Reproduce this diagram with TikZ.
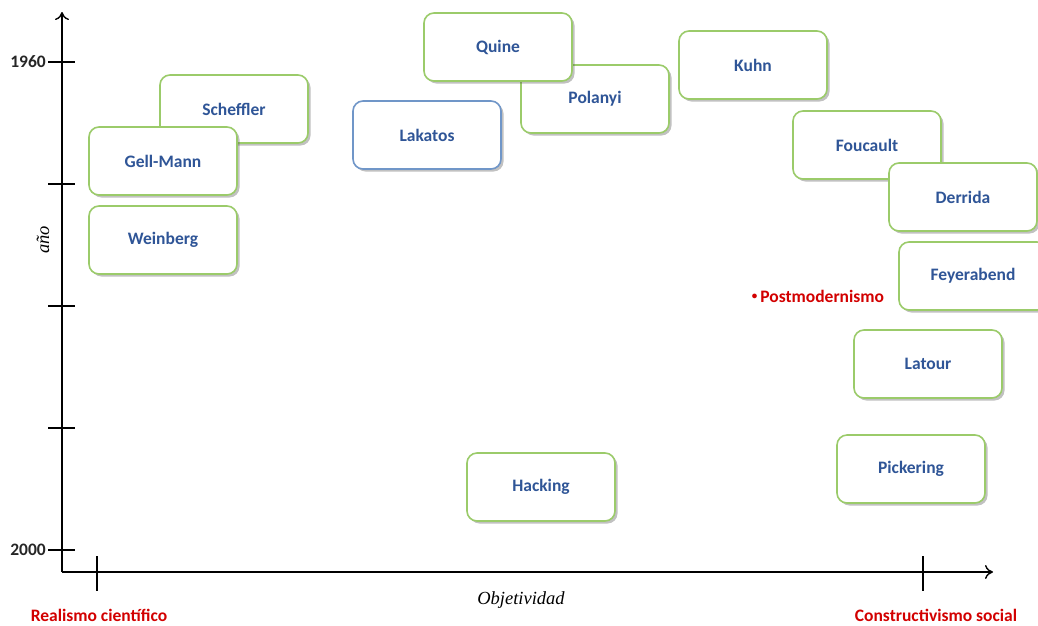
\documentclass[tikz,border=0pt]{standalone}
\usepackage{fontspec}
\setmainfont{Carlito}
\newfontfamily\serifit{Liberation Serif}
\usetikzlibrary{shadows,arrows.meta}
\definecolor{boxgreen}{RGB}{155,203,106}
\definecolor{boxblue}{RGB}{112,150,200}
\definecolor{txtblue}{RGB}{47,85,151}
\definecolor{redlbl}{RGB}{210,0,0}
\tikzset{
  person/.style={draw=boxgreen, line width=1.6pt, rounded corners=10pt, fill=white,
    minimum width=148pt, minimum height=68pt, inner sep=0pt,
    font=\fontsize{17.5}{20}\selectfont\bfseries, text=txtblue,
    drop shadow={shadow xshift=2.5pt, shadow yshift=-2.5pt, opacity=0.35, fill=black!70}},
  personblue/.style={person, draw=boxblue},
  axis/.style={line width=2.6pt, -{To[length=8pt,width=14pt,line width=1.4pt]}},
  tick/.style={line width=2.4pt},
  yearlbl/.style={font=\fontsize{17.5}{20}\selectfont\bfseries, text=black!85, anchor=east, inner sep=1pt},
  redtxt/.style={font=\fontsize{17.5}{20}\selectfont\bfseries, text=redlbl, inner sep=1pt},
  axlbl/.style={font=\fontsize{18.5}{22}\selectfont\serifit\itshape}
}
\begin{document}
\begin{tikzpicture}[x=1pt,y=-1pt]
\useasboundingbox (0,0) rectangle (1038,625);
% axes
\coordinate (O) at (62,572);
\coordinate (Ytop) at (62,12);
\coordinate (Xend) at (993,572);
\draw[axis] (O) -- (Ytop);
\draw[axis] (O) -- (Xend);
% y ticks
\foreach \yy in {62,184,306,428,550} \draw[tick] (48,\yy) -- (75,\yy);
% x ticks
\draw[tick] (97,556) -- (97,591);
\draw[tick] (923,556) -- (923,591);
\node[yearlbl] (y1960) at (47,62) {1960};
\node[yearlbl] (y2000) at (47,550) {2000};
\node[axlbl, rotate=90] (ano) at (43,240) {año};
\node[axlbl] (obj) at (521,600) {Objetividad};
\node[redtxt] (real) at (99,615) {Realismo científico};
\node[redtxt] (cons) at (936,615) {Constructivismo social};
\node[redtxt] (post) at (818,296) {\raisebox{3pt}{\fontsize{11}{12}\selectfont•}\,Postmodernismo};
% boxes
\node[person] (scheffler) at (234,109) {Scheffler};
\node[person] (gellmann) at (163,161) {Gell-Mann};
\node[person] (weinberg) at (163,240) {Weinberg};
\node[personblue] (lakatos) at (427,135) {Lakatos};
\node[person] (polanyi) at (595,99) {Polanyi};
\node[person] (quine) at (498,47) {Quine};
\node[person] (kuhn) at (753,65) {Kuhn};
\node[person] (foucault) at (867,145) {Foucault};
\node[person] (derrida) at (963,197) {Derrida};
\node[person] (feyerabend) at (973,276) {Feyerabend};
\node[person] (latour) at (928,364) {Latour};
\node[person] (pickering) at (911,469) {Pickering};
\node[person] (hacking) at (541,487) {Hacking};
\end{tikzpicture}
\end{document}
